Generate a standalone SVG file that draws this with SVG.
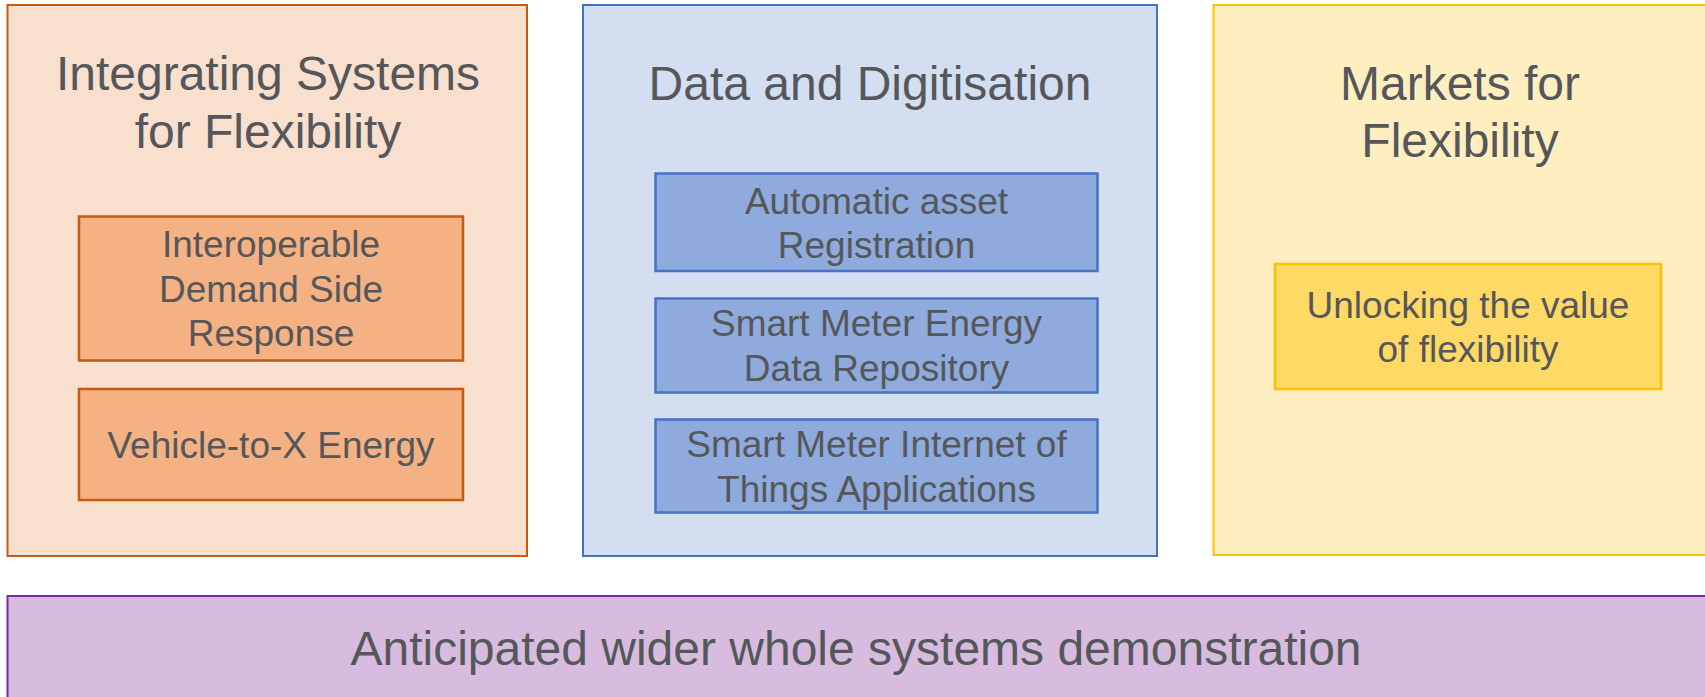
<svg xmlns="http://www.w3.org/2000/svg" width="1705" height="697" viewBox="0 0 1705 697">
<style>
text{font-family:"Liberation Sans",Arial,sans-serif;fill:#55575b;text-anchor:middle}
.t{font-size:48px}
.s{font-size:37px}
.o1{fill:#f9dfcd;stroke:#c55a11;stroke-width:2}
.o2{fill:#f4b183;stroke:#c55a11;stroke-width:2.5}
.b1{fill:#d3def1;stroke:#4472c4;stroke-width:2}
.b2{fill:#8faadc;stroke:#4472c4;stroke-width:2.5}
.y1{fill:#feeec0;stroke:#ffc000;stroke-width:2}
.y2{fill:#ffd966;stroke:#ffc000;stroke-width:2.5}
.p1{fill:#d8bce0;stroke:#7030a0;stroke-width:2}
</style>
<rect width="1705" height="697" fill="#ffffff"/>
<g id="integrating">
<rect class="o1" x="7.5" y="5" width="519.5" height="551"/>
<text class="t" x="268" y="90">Integrating Systems</text>
<text class="t" x="268" y="147.5">for Flexibility</text>
</g>
<g id="dsr">
<rect class="o2" x="79" y="216.5" width="384" height="144"/>
<text class="s" x="271" y="257">Interoperable</text>
<text class="s" x="271" y="301.5">Demand Side</text>
<text class="s" x="271" y="346">Response</text>
</g>
<g id="v2x">
<rect class="o2" x="79" y="389" width="384" height="111"/>
<text class="s" x="271" y="458">Vehicle-to-X Energy</text>
</g>
<g id="data">
<rect class="b1" x="583" y="5" width="574" height="551"/>
<text class="t" x="870" y="99.5">Data and Digitisation</text>
</g>
<g id="asset">
<rect class="b2" x="655.5" y="173.5" width="442" height="97.5"/>
<text class="s" x="876.5" y="213.5">Automatic asset</text>
<text class="s" x="876.5" y="258">Registration</text>
</g>
<g id="repo">
<rect class="b2" x="655.5" y="298.5" width="442" height="94"/>
<text class="s" x="876.5" y="335.5">Smart Meter Energy</text>
<text class="s" x="876.5" y="380.5">Data Repository</text>
</g>
<g id="iot">
<rect class="b2" x="655.5" y="419.5" width="442" height="93"/>
<text class="s" x="876.5" y="456.5">Smart Meter Internet of</text>
<text class="s" x="876.5" y="501.5">Things Applications</text>
</g>
<g id="markets">
<rect class="y1" x="1213.5" y="5" width="494" height="550"/>
<text class="t" x="1460" y="99.5">Markets for</text>
<text class="t" x="1460" y="157">Flexibility</text>
</g>
<g id="unlocking">
<rect class="y2" x="1275" y="264" width="386" height="125"/>
<text class="s" x="1468" y="317.5">Unlocking the value</text>
<text class="s" x="1468" y="362">of flexibility</text>
</g>
<g id="wider">
<rect class="p1" x="7.5" y="596" width="1700" height="110"/>
<text class="t" x="856" y="665">Anticipated wider whole systems demonstration</text>
</g>
<g id="connectors"></g>
</svg>
